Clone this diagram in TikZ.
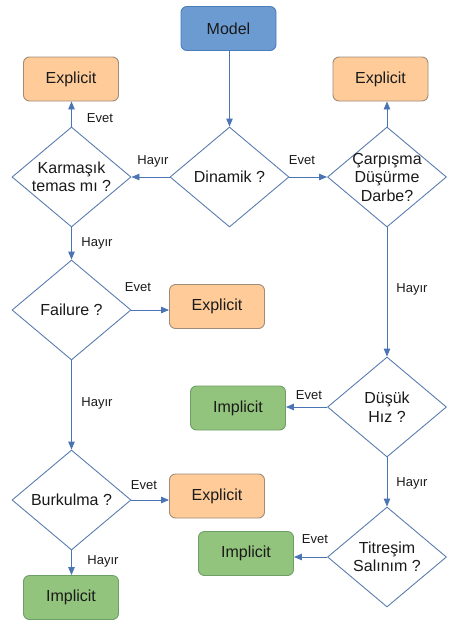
\documentclass[tikz,border=0pt]{standalone}
\usepackage{fontspec}
\setmainfont{Liberation Sans}
\usetikzlibrary{shapes.geometric,arrows.meta}
\definecolor{modelfill}{HTML}{6C9BD2}
\definecolor{modeldraw}{HTML}{4A7EBB}
\definecolor{expfill}{HTML}{FFCC99}
\definecolor{expdraw}{HTML}{A08A78}
\definecolor{impfill}{HTML}{93C47D}
\definecolor{impdraw}{HTML}{6B9F66}
\definecolor{diadraw}{HTML}{5A7DB0}
\definecolor{arrcol}{HTML}{4A74B4}
\definecolor{txt}{HTML}{1A1A1A}
\tikzset{
  box/.style={rectangle, rounded corners=6pt, minimum width=95pt, minimum height=44pt, line width=0.9pt, font=\fontsize{16}{18}\selectfont, text=txt},
  modelbox/.style={box, fill=modelfill, draw=modeldraw},
  expbox/.style={box, fill=expfill, draw=expdraw},
  impbox/.style={box, fill=impfill, draw=impdraw},
  dia/.style={diamond, draw=diadraw, fill=white, line width=0.9pt, minimum width=119pt, minimum height=100pt, inner sep=0pt},
  diatext/.style={font=\fontsize{16}{18.5}\selectfont, text=txt, align=center, inner sep=0pt},
  conn/.style={draw=arrcol, line width=0.9pt, -{Triangle[length=8pt,width=6.5pt]}, arrcol},
  lab/.style={font=\fontsize{13}{15}\selectfont, text=txt, inner sep=0pt}
}
\begin{document}
\begin{tikzpicture}[x=1pt,y=-1pt]
\useasboundingbox (0,0) rectangle (455,630);
% boxes
\node[modelbox] (model) at (228.5,28.5) {Model};
\node[expbox] (exTL) at (71,79) {Explicit};
\node[expbox] (exTR) at (380.5,79) {Explicit};
\node[expbox] (exM) at (217,306.5) {Explicit};
\node[expbox] (exB) at (217,496) {Explicit};
\node[impbox] (imBL) at (71,597.5) {Implicit};
\node[impbox] (imM) at (238,408) {Implicit};
\node[impbox] (imR) at (246,553.5) {Implicit};
% diamonds
\node[dia, label={[diatext]center:Dinamik ?}] (din) at (229.5,177) {};
\node[dia, label={[diatext]center:Karmaşık\\temas mı ?}] (kar) at (71.5,177) {};
\node[dia, label={[diatext]center:Çarpışma\\Düşürme\\Darbe?}] (carp) at (387,177) {};
\node[dia, label={[diatext]center:Failure ?}] (fail) at (71.5,310) {};
\node[dia, label={[diatext]center:Burkulma ?}] (burk) at (71.5,500) {};
\node[dia, label={[diatext]center:Düşük\\Hız ?}] (dus) at (387,407) {};
\node[dia, label={[diatext]center:Titreşim\\Salınım ?}] (tit) at (387,557) {};
% connectors
\draw[conn] (din.north |- model.south) -- (din.north);
\draw[conn] (din.west) -- (kar.east);
\draw[conn] (din.east) -- (carp.west);
\draw[conn] (kar.north) -- (kar.north |- exTL.south);
\draw[conn] (kar.south) -- (fail.north);
\draw[conn] (fail.east) -- (fail.east -| exM.west);
\draw[conn] (fail.south) -- (burk.north);
\draw[conn] (burk.east) -- (burk.east -| exB.west);
\draw[conn] (burk.south) -- (burk.south |- imBL.north);
\draw[conn] (carp.north) -- (carp.north |- exTR.south);
\draw[conn] (carp.south) -- (dus.north);
\draw[conn] (dus.west) -- (dus.west -| imM.east);
\draw[conn] (dus.south) -- (tit.north);
\draw[conn] (tit.west) -- (tit.west -| imR.east);
% labels
\node[lab] (l1) at (100,118) {Evet};
\node[lab] (l2) at (153,161) {Hayır};
\node[lab] (l3) at (302,160) {Evet};
\node[lab] (l4) at (97,243) {Hayır};
\node[lab] (l5) at (138,287) {Evet};
\node[lab] (l6) at (412,289) {Hayır};
\node[lab] (l7) at (97,403) {Hayır};
\node[lab] (l8) at (309,395) {Evet};
\node[lab] (l9) at (412,483) {Hayır};
\node[lab] (l10) at (144,485) {Evet};
\node[lab] (l11) at (315,539) {Evet};
\node[lab] (l12) at (103,561) {Hayır};
\end{tikzpicture}
\end{document}
